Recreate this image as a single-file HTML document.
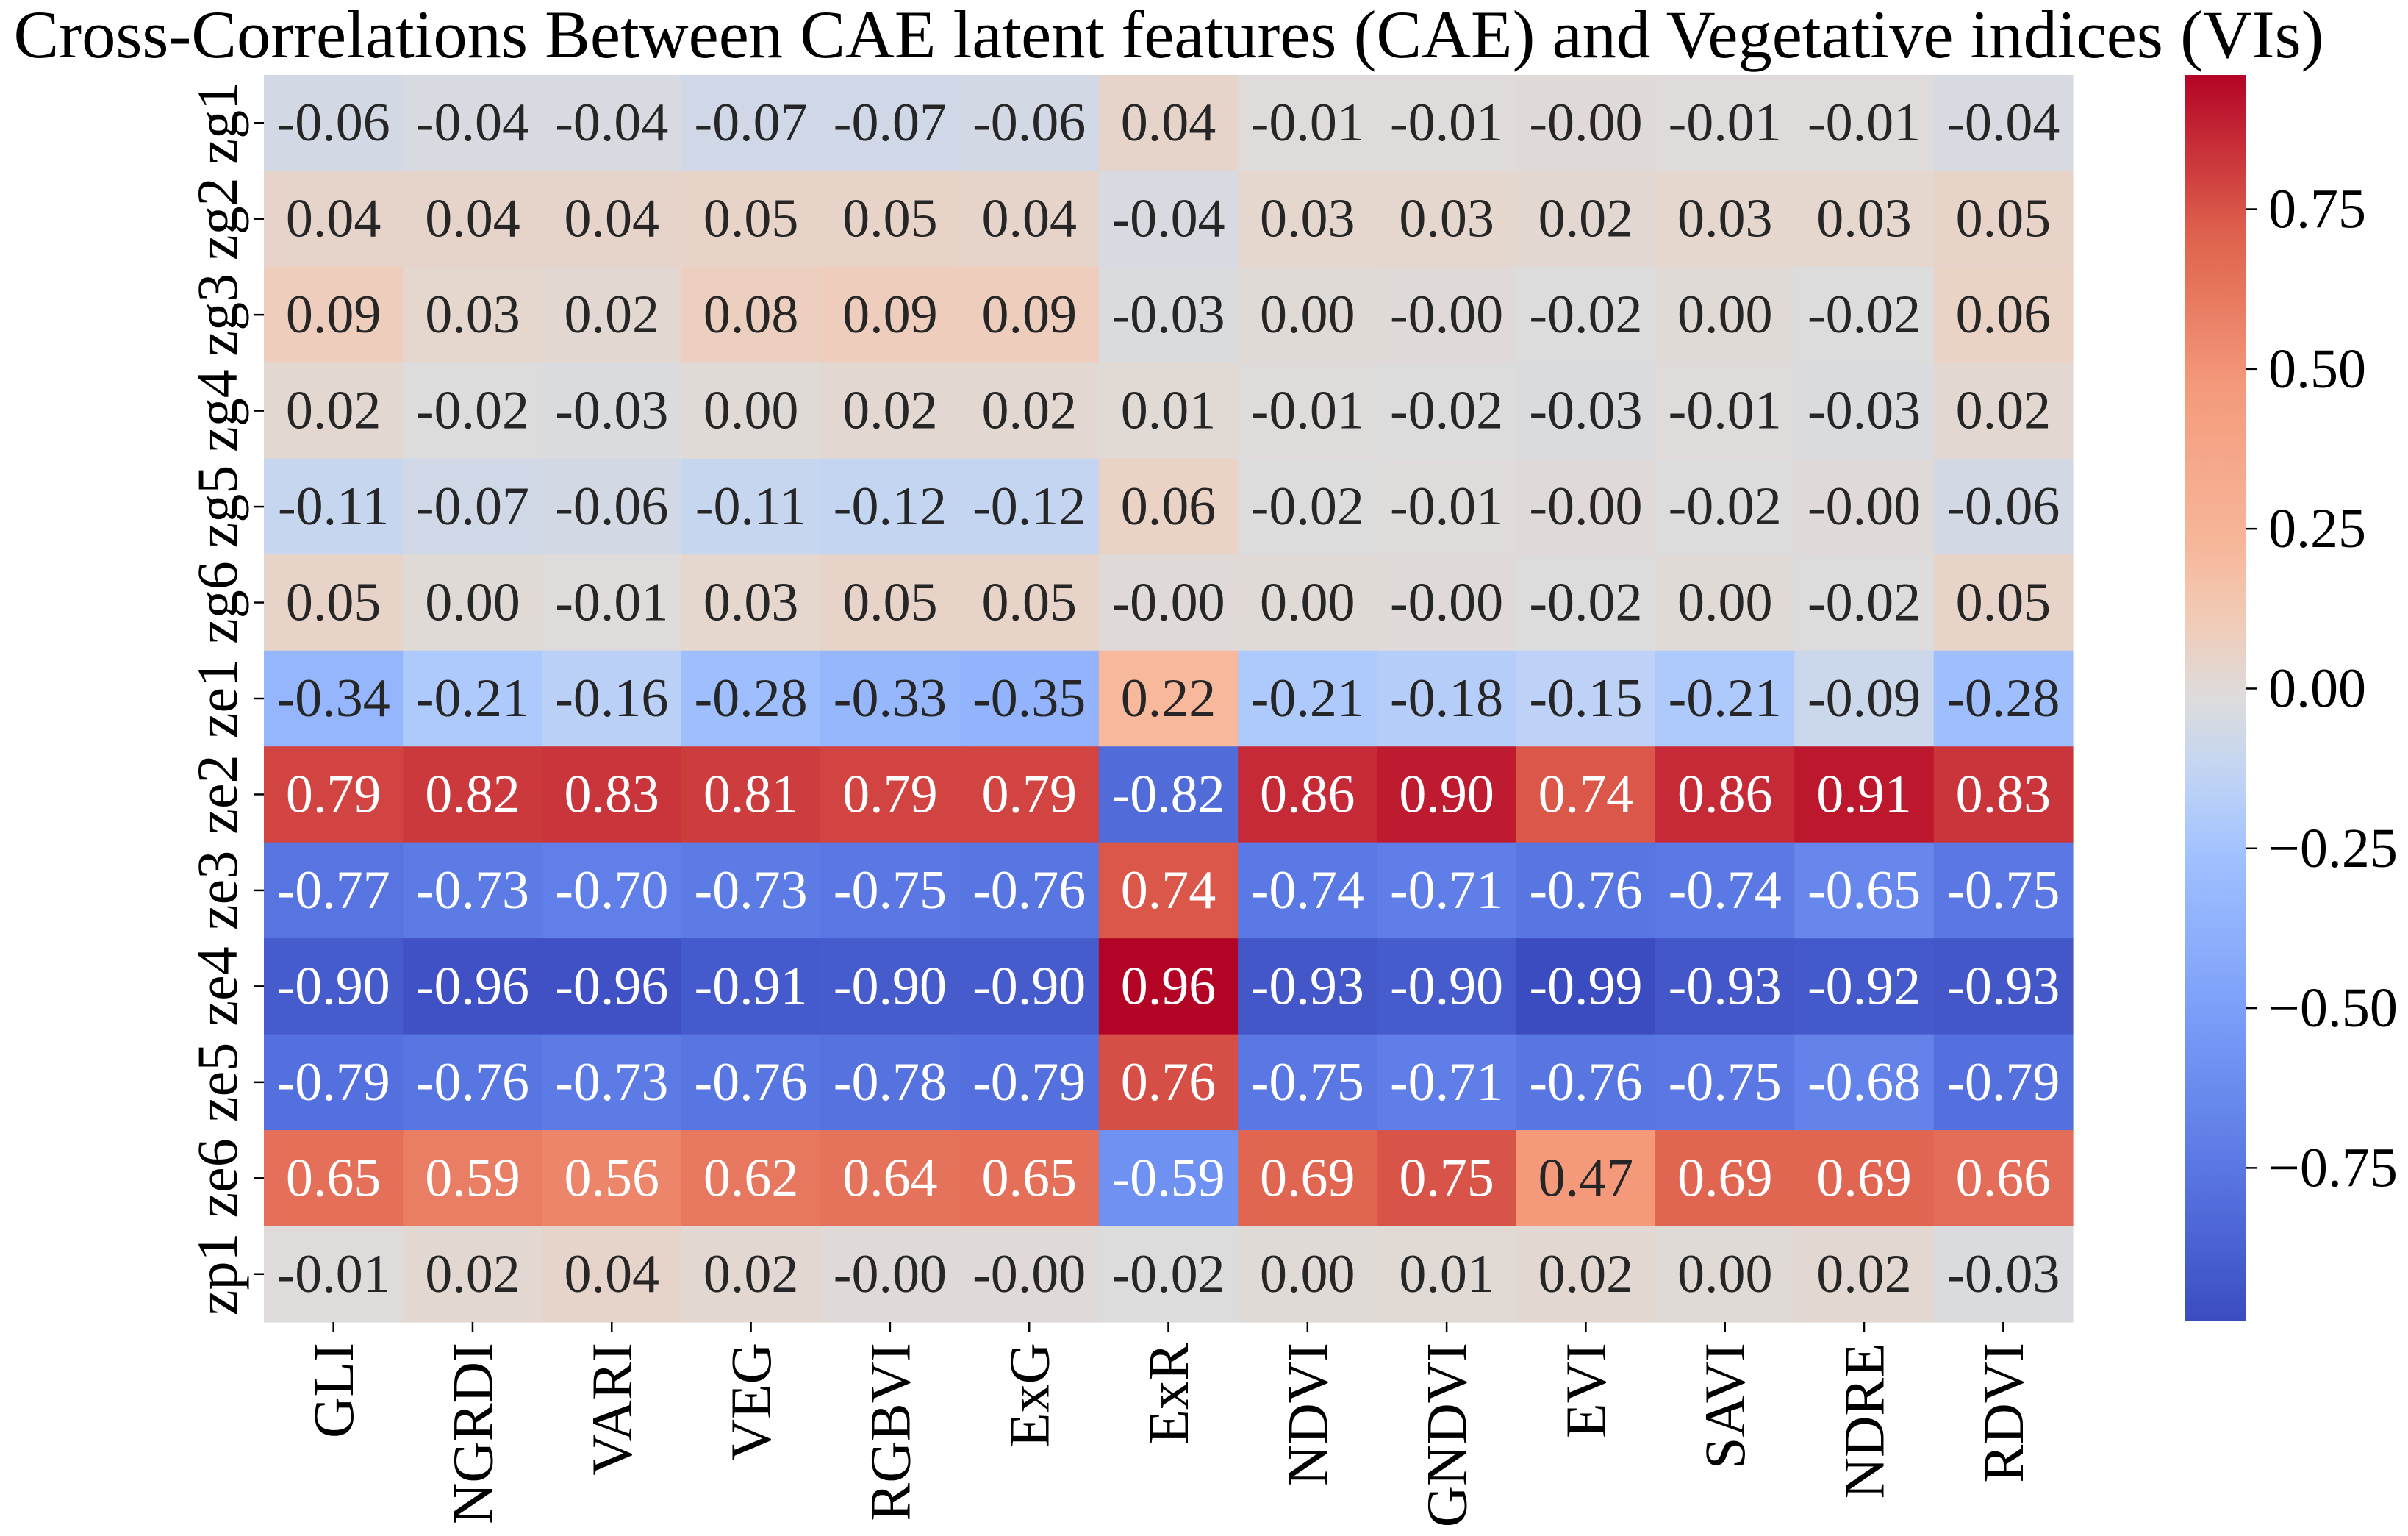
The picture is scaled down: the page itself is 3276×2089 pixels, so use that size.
<!DOCTYPE html>
<html><head><meta charset="utf-8"><style>
html,body{margin:0;padding:0;background:#fff}
svg{display:block;font-family:"Liberation Serif",serif}
</style></head><body>
<svg id="chart" width="3276" height="2089" viewBox="0 0 3276 2089" xmlns="http://www.w3.org/2000/svg">
<text x="1590" y="78" font-size="92" text-anchor="middle" textLength="3143" lengthAdjust="spacingAndGlyphs" fill="#000">Cross-Correlations Between CAE latent features (CAE) and Vegetative indices (VIs)</text>
<g id="cells"></g><g id="xaxis"></g><g id="yaxis"></g><g id="cbar"></g>
</svg>
<script>
const colLabels=["GLI","NGRDI","VARI","VEG","RGBVI","ExG","ExR","NDVI","GNDVI","EVI","SAVI","NDRE","RDVI"];
const rowLabels=["zg1","zg2","zg3","zg4","zg5","zg6","ze1","ze2","ze3","ze4","ze5","ze6","zp1"];
const values=[
[-0.06,-0.04,-0.04,-0.07,-0.07,-0.06,0.04,-0.01,-0.01,-0.001,-0.01,-0.01,-0.04],
[0.04,0.04,0.04,0.05,0.05,0.04,-0.04,0.03,0.03,0.02,0.03,0.03,0.05],
[0.09,0.03,0.02,0.08,0.09,0.09,-0.03,0.00,-0.001,-0.02,0.00,-0.02,0.06],
[0.02,-0.02,-0.03,0.00,0.02,0.02,0.01,-0.01,-0.02,-0.03,-0.01,-0.03,0.02],
[-0.11,-0.07,-0.06,-0.11,-0.12,-0.12,0.06,-0.02,-0.01,-0.001,-0.02,-0.001,-0.06],
[0.05,0.00,-0.01,0.03,0.05,0.05,-0.001,0.00,-0.001,-0.02,0.00,-0.02,0.05],
[-0.34,-0.21,-0.16,-0.28,-0.33,-0.35,0.22,-0.21,-0.18,-0.15,-0.21,-0.09,-0.28],
[0.79,0.82,0.83,0.81,0.79,0.79,-0.82,0.86,0.90,0.74,0.86,0.91,0.83],
[-0.77,-0.73,-0.70,-0.73,-0.75,-0.76,0.74,-0.74,-0.71,-0.76,-0.74,-0.65,-0.75],
[-0.90,-0.96,-0.96,-0.91,-0.90,-0.90,0.96,-0.93,-0.90,-0.99,-0.93,-0.92,-0.93],
[-0.79,-0.76,-0.73,-0.76,-0.78,-0.79,0.76,-0.75,-0.71,-0.76,-0.75,-0.68,-0.79],
[0.65,0.59,0.56,0.62,0.64,0.65,-0.59,0.69,0.75,0.47,0.69,0.69,0.66],
[-0.01,0.02,0.04,0.02,-0.001,-0.001,-0.02,0.00,0.01,0.02,0.00,0.02,-0.03]
];
const cbarTicks=[0.75,0.5,0.25,0,-0.25,-0.5,-0.75];
const cbarTickLabels=["0.75","0.50","0.25","0.00","\u22120.25","\u22120.50","\u22120.75"];

const NS="http://www.w3.org/2000/svg";
const L=359,R=2820,T=102,B=1798;
const cw=(R-L)/colLabels.length, ch=(B-T)/rowLabels.length;
const flat=values.flat();
const vmin=Math.min(...flat), vmax=Math.max(...flat);
const xPos=i=>L+i*cw, yPos=j=>T+j*ch;
const stops=[[0,[59,76,192]],[0.125,[90,120,228]],[0.25,[123,159,249]],[0.375,[162,193,255]],[0.4375,[192,212,245]],[0.5,[221,220,220]],[0.5625,[242,203,183]],[0.625,[247,182,153]],[0.75,[244,154,123]],[0.875,[222,96,77]],[1,[180,4,38]]];
function cmap(t){t=Math.max(0,Math.min(1,t));for(let k=1;k<stops.length;k++){if(t<=stops[k][0]){const a=stops[k-1],b=stops[k];const f=(t-a[0])/(b[0]-a[0]);return a[1].map((c,i)=>Math.round(c+(b[1][i]-c)*f));}}return stops[stops.length-1][1];}
function lum(c){const l=c.map(v=>{v/=255;return v<=0.03928?v/12.92:Math.pow((v+0.055)/1.055,2.4)});return 0.2126*l[0]+0.7152*l[1]+0.0722*l[2];}
function mk(tag,attrs,parent){const e=document.createElementNS(NS,tag);for(const k in attrs)e.setAttribute(k,attrs[k]);parent.appendChild(e);return e;}
const cells=document.getElementById('cells');
values.forEach((row,j)=>row.forEach((v,i)=>{
  const c=cmap((v-vmin)/(vmax-vmin));
  const r=mk('rect',{x:xPos(i),y:yPos(j),width:cw+0.6,height:ch+0.6,fill:`rgb(${c})`},cells);
  
  
  const t=mk('text',{x:xPos(i)+cw/2,y:yPos(j)+ch/2,'font-size':74,'text-anchor':'middle','dominant-baseline':'central',fill:lum(c)<0.408?'#ffffff':'#262626'},cells);
  t.textContent=v.toFixed(2);
  
  
}));
const xa=document.getElementById('xaxis');
colLabels.forEach((lab,i)=>{
  const cx=xPos(i)+cw/2;
  const tk=mk('line',{x1:cx,x2:cx,y1:B,y2:B+14,stroke:'#000','stroke-width':2.5},xa);
  
  
  const t=mk('text',{x:cx,y:B+28,'font-size':78,'text-anchor':'end','dominant-baseline':'central',transform:`rotate(-90 ${cx} ${B+28})`,fill:'#000'},xa);
  t.textContent=lab;
  
  
});
const ya=document.getElementById('yaxis');
rowLabels.forEach((lab,j)=>{
  const cy=yPos(j)+ch/2;
  const tk=mk('line',{x1:L-14,x2:L,y1:cy,y2:cy,stroke:'#000','stroke-width':2.5},ya);
  
  
  const t=mk('text',{x:322,y:cy,'font-size':78,'text-anchor':'middle',transform:`rotate(-90 322 ${cy})`,fill:'#000'},ya);
  t.textContent=lab;
  
  
});
const cb=document.getElementById('cbar');
const CX0=2973,CX1=3056,CT=102,CB=1797;
const defs=mk('defs',{},cb);
const g=mk('linearGradient',{id:'cg',x1:0,y1:1,x2:0,y2:0},defs);
for(let k=0;k<=40;k++){const c=cmap(k/40);mk('stop',{offset:k/40,'stop-color':`rgb(${c})`},g);}
const bar=mk('rect',{x:CX0,y:CT,width:CX1-CX0,height:CB-CT,fill:'url(#cg)'},cb);


const cy=v=>CB-(v-vmin)/(vmax-vmin)*(CB-CT);
cbarTicks.forEach((v,k)=>{
  const y=cy(v);
  const tk=mk('line',{x1:CX1,x2:CX1+14,y1:y,y2:y,stroke:'#000','stroke-width':2.5},cb);
  
  
  const t=mk('text',{x:3086,y:y,'font-size':76,'dominant-baseline':'central',fill:'#000'},cb);
  t.textContent=cbarTickLabels[k];
  
  
});
</script>
</body></html>
